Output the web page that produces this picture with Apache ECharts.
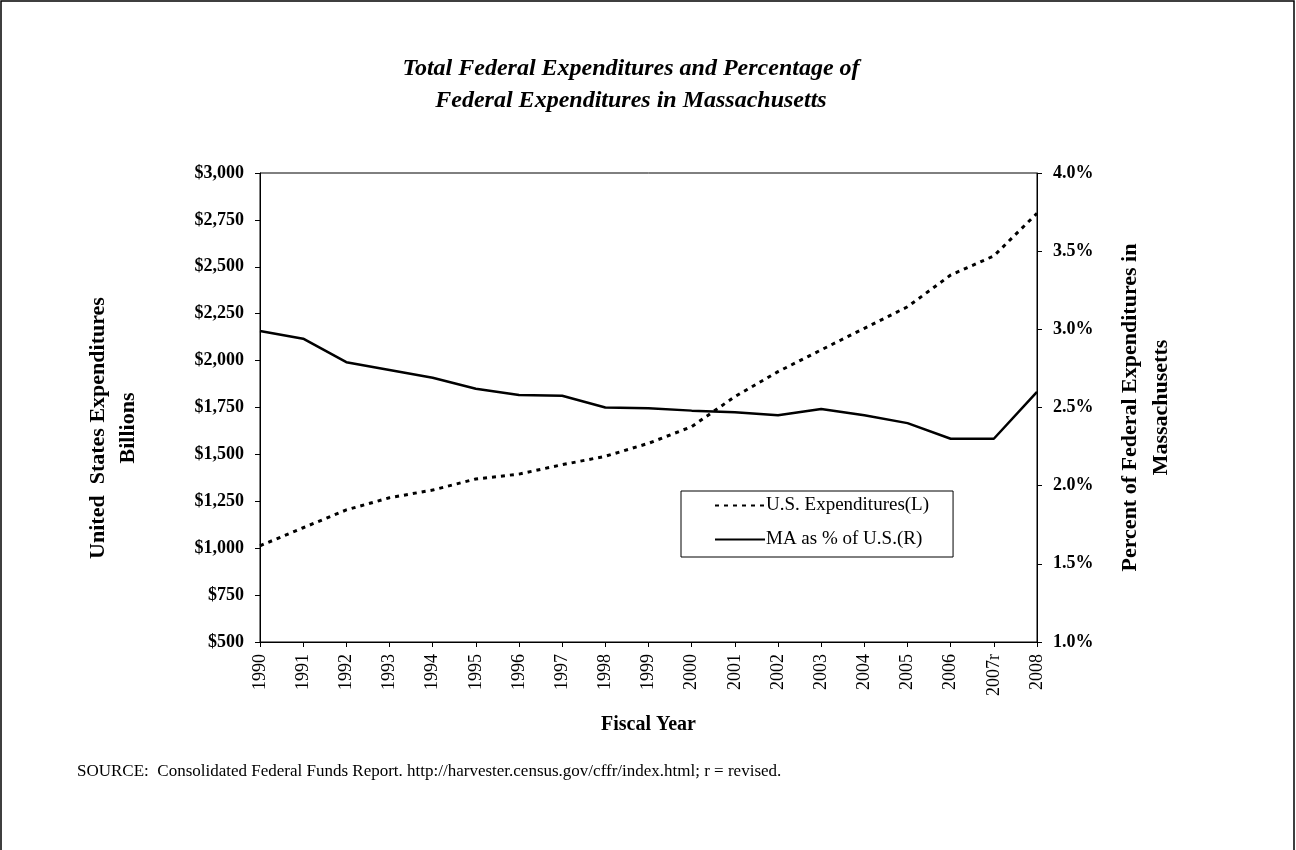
<!DOCTYPE html>
<html>
<head>
<meta charset="utf-8">
<script src="https://cdn.jsdelivr.net/npm/echarts@6/dist/echarts.min.js"></script>
<style>
  html, body { margin: 0; padding: 0; background: #fff; }
  #chart { width: 1296px; height: 850px; }
</style>
</head>
<body>
<div id="chart"></div>
<script>
// fiscal years (r = revised)
const years = ['1990', '1991', '1992', '1993', '1994', '1995', '1996', '1997', '1998', '1999',
  '2000', '2001', '2002', '2003', '2004', '2005', '2006', '2007r', '2008'];
// total U.S. federal expenditures, $ billions (left axis)
const usExpend = [1013, 1109, 1204, 1269, 1310, 1369, 1395, 1445, 1490, 1559,
  1648, 1808, 1941, 2057, 2172, 2287, 2456, 2558, 2785];
// Massachusetts share of federal expenditures, % (right axis)
const maShare = [2.99, 2.94, 2.79, 2.74, 2.69, 2.62, 2.58, 2.575, 2.50, 2.495,
  2.48, 2.47, 2.45, 2.49, 2.45, 2.40, 2.30, 2.30, 2.60];

const serif = '"Liberation Serif", "Times New Roman", serif';

const chart = echarts.init(document.getElementById('chart'));
const option = {
  backgroundColor: '#fff',
  animation: false,
  textStyle: { fontFamily: serif, color: '#000' },
  title: {
    text: 'Total Federal Expenditures and Percentage of\nFederal Expenditures in Massachusetts',
    left: 626,
    top: 48,
    textAlign: 'center',
    textStyle: {
      fontFamily: serif,
      fontSize: 24,
      fontStyle: 'italic',
      fontWeight: 'bold',
      lineHeight: 32,
      color: '#000'
    }
  },
  grid: {
    left: 260, right: 259, top: 173, bottom: 208,
    show: true, borderColor: '#000', borderWidth: 1
  },
  legend: {
    orient: 'vertical',
    left: 681,
    top: 491,
    width: 240,
    padding: [5, 24, 8, 33],
    itemGap: 15,
    itemWidth: 50,
    itemHeight: 12,
    borderColor: '#000',
    borderWidth: 1,
    itemStyle: { opacity: 0 },
    textStyle: { fontFamily: serif, fontSize: 19, color: '#000', padding: [0, 0, 0, -4] },
    data: ['U.S. Expenditures(L)', 'MA as % of U.S.(R)']
  },
  xAxis: {
    type: 'category',
    data: years,
    boundaryGap: false,
    name: 'Fiscal Year',
    nameLocation: 'middle',
    nameGap: 73,
    nameTextStyle: { fontFamily: serif, fontSize: 20, fontWeight: 'bold', color: '#000' },
    axisLine: { lineStyle: { color: '#000', width: 1 } },
    axisTick: { show: true, length: 5, interval: 0, lineStyle: { color: '#000' } },
    axisLabel: { rotate: 90, interval: 0, margin: 12, fontFamily: serif, fontSize: 18, color: '#000' },
    splitLine: { show: false }
  },
  yAxis: [
    {
      type: 'value',
      min: 500, max: 3000, interval: 250,
      axisLine: { show: true, lineStyle: { color: '#000', width: 1 } },
      axisTick: { show: true, length: 5, lineStyle: { color: '#000' } },
      axisLabel: {
        margin: 16, fontFamily: serif, fontSize: 18, fontWeight: 'bold', color: '#000',
        formatter: v => '$' + v.toLocaleString('en-US')
      },
      splitLine: { show: false }
    },
    {
      type: 'value',
      position: 'right',
      min: 1, max: 4, interval: 0.5,
      name: 'Percent of Federal Expenditures in\nMassachusetts',
      nameLocation: 'middle',
      nameRotate: 90,
      nameGap: 78,
      nameTextStyle: { fontFamily: serif, fontSize: 22, fontWeight: 'bold', color: '#000', lineHeight: 31 },
      axisLine: { show: true, lineStyle: { color: '#000', width: 1 } },
      axisTick: { show: true, length: 5, lineStyle: { color: '#000' } },
      axisLabel: {
        margin: 16, fontFamily: serif, fontSize: 18, fontWeight: 'bold', color: '#000',
        formatter: v => v.toFixed(1) + '%'
      },
      splitLine: { show: false }
    }
  ],
  series: [
    {
      name: 'U.S. Expenditures(L)',
      type: 'line',
      yAxisIndex: 0,
      data: usExpend,
      symbol: 'none',
      lineStyle: { color: '#000', width: 3, type: [4, 5] },
      itemStyle: { color: '#000' }
    },
    {
      name: 'MA as % of U.S.(R)',
      type: 'line',
      yAxisIndex: 1,
      data: maShare,
      symbol: 'none',
      lineStyle: { color: '#000', width: 2.5 },
      itemStyle: { color: '#000' }
    }
  ],
  graphic: [
    {
      type: 'rect',
      shape: { x: 1, y: 1, width: 1293, height: 900 },
      style: { fill: 'none', stroke: '#000', lineWidth: 1.5 },
      silent: true
    },
    // left axis title, sits a little below the plot middle in the original
    {
      type: 'text',
      x: 113,
      y: 428,
      rotation: Math.PI / 2,
      style: {
        text: 'United  States Expenditures\nBillions',
        font: 'bold 22px ' + serif,
        lineHeight: 30,
        align: 'center',
        verticalAlign: 'middle',
        fill: '#000'
      }
    },
    {
      type: 'text',
      left: 77,
      top: 763,
      style: {
        text: 'SOURCE:  Consolidated Federal Funds Report. http://harvester.census.gov/cffr/index.html; r = revised.',
        font: '17px ' + serif,
        fill: '#000'
      }
    }
  ]
};
chart.setOption(option);
</script>
</body>
</html>
